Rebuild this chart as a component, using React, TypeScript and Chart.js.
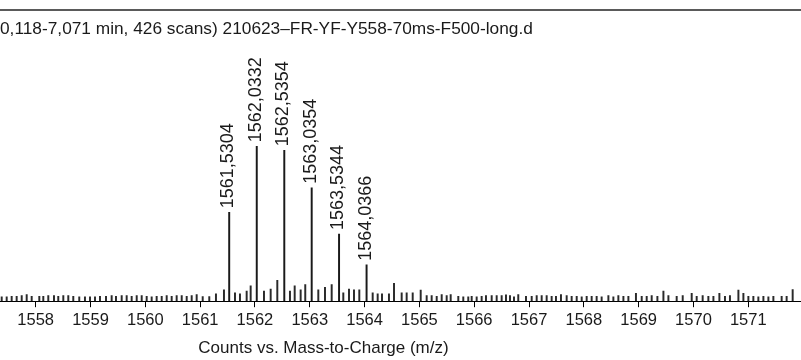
import React, { useEffect, useRef } from "react";
import { Chart, registerables } from "chart.js";

Chart.register(...registerables);

const TITLE = "0,118-7,071 min, 426 scans) 210623\u2013FR-YF-Y558-70ms-F500-long.d";
const X_AXIS_TITLE = "Counts vs. Mass-to-Charge (m/z)";
const X_MIN = 1557.349;
const X_MAX = 1571.962;
const X_TICKS = [1558, 1559, 1560, 1561, 1562, 1563, 1564, 1565, 1566, 1567, 1568, 1569, 1570, 1571];

// labelled isotope peaks (relative intensity, base peak = 100)
const PEAK_MZ = [1561.5304, 1562.0332, 1562.5354, 1563.0354, 1563.5344, 1564.0366];
const PEAK_INT = [57.4, 100, 97.4, 73.2, 43.4, 23.5];
const PEAK_LABELS = ["1561,5304", "1562,0332", "1562,5354", "1563,0354", "1563,5344", "1564,0366"];

// small unlabelled signals
const NOISE_MZ = [
  1557.380, 1557.471, 1557.562, 1557.653, 1557.745, 1557.836, 1557.927, 1558.066, 1558.139, 1558.230,
  1558.334, 1558.412, 1558.504, 1558.595, 1558.686, 1558.795, 1558.899, 1558.991, 1559.082, 1559.173,
  1559.283, 1559.386, 1559.465, 1559.569, 1559.660, 1559.751, 1559.843, 1559.934, 1560.025, 1560.116,
  1560.207, 1560.299, 1560.390, 1560.481, 1560.572, 1560.664, 1560.755, 1560.846, 1560.937,
  1561.047, 1561.167, 1561.289, 1561.435, 1561.636, 1561.727, 1561.849, 1561.922, 1562.165, 1562.287,
  1562.408, 1562.639, 1562.725, 1562.834, 1562.918, 1563.156, 1563.278, 1563.400, 1563.612, 1563.716,
  1563.807, 1563.904, 1564.148, 1564.239, 1564.318, 1564.445, 1564.537,
  1564.677, 1564.768, 1564.878, 1565.024, 1565.133, 1565.224, 1565.316, 1565.407, 1565.498, 1565.571,
  1565.710, 1565.801, 1565.892, 1565.954, 1566.045, 1566.136, 1566.215, 1566.319, 1566.410, 1566.501,
  1566.580, 1566.653, 1566.726, 1566.804, 1566.945, 1567.049, 1567.140, 1567.231, 1567.322, 1567.413,
  1567.492, 1567.583, 1567.687, 1567.778, 1567.870, 1567.961, 1568.052, 1568.143, 1568.234,
  1568.325, 1568.448, 1568.539, 1568.630, 1568.722, 1568.813, 1568.951, 1569.056, 1569.147, 1569.238,
  1569.342, 1569.452, 1569.543, 1569.694, 1569.804, 1569.968, 1570.059, 1570.168, 1570.272, 1570.364,
  1570.473, 1570.575, 1570.666, 1570.820, 1570.911, 1571.002, 1571.093, 1571.184, 1571.276, 1571.367,
  1571.458, 1571.609, 1571.700, 1571.810,
];
const NOISE_INT = [
  2.8, 2.8, 3.2, 3.2, 3.7, 4.3, 3.2, 3.2, 3.2, 3.7,
  3.7, 3.2, 3.7, 3.7, 3.2, 2.8, 2.8, 2.8, 2.8, 3.2,
  3.2, 3.7, 3.2, 3.7, 3.7, 3.2, 3.7, 3.7, 3.2, 2.8,
  3.2, 3.2, 3.7, 3.2, 3.7, 3.7, 3.2, 3.7, 4.3,
  3.0, 3.0, 4.7, 7.3, 5.4, 4.7, 6.5, 9.9, 6.5, 7.9,
  13.4, 6.5, 9.9, 7.3, 10.8, 7.3, 9.0, 10.8, 5.4, 7.9,
  7.3, 7.3, 5.4, 4.7, 4.7, 4.7, 11.6,
  5.4, 5.4, 5.4, 7.1, 3.7, 3.7, 3.2, 4.3, 3.7, 4.3,
  3.2, 2.8, 2.8, 3.2, 2.8, 3.2, 3.7, 3.7, 3.7, 3.7,
  4.1, 3.7, 2.8, 4.3, 3.2, 3.2, 3.7, 3.7, 3.7, 3.2,
  3.2, 4.3, 3.7, 3.2, 3.2, 2.8, 3.2, 3.2, 3.2,
  2.8, 3.7, 2.8, 3.7, 3.2, 3.2, 5.0, 3.2, 3.2, 3.7,
  3.2, 6.5, 3.7, 3.2, 3.7, 5.0, 3.2, 3.7, 3.2, 3.2,
  5.0, 3.2, 3.7, 7.1, 5.0, 3.2, 3.2, 2.8, 3.2, 2.8,
  3.2, 3.2, 3.2, 7.5,
];

const Y_MAX = 162.3;
const FONT = "'Liberation Sans', Arial, Helvetica, sans-serif";

const peakLabelPlugin = {
  id: "peakLabels",
  afterDatasetsDraw(chart: any) {
    const { ctx, scales } = chart;
    const xs = scales.x;
    const ys = scales.y;
    ctx.save();
    ctx.fillStyle = "#1a1a1a";
    ctx.font = `18px ${FONT}`;
    ctx.textAlign = "left";
    ctx.textBaseline = "middle";
    PEAK_MZ.forEach((mz, i) => {
      const x = xs.getPixelForValue(mz);
      const y = ys.getPixelForValue(PEAK_INT[i]);
      ctx.save();
      ctx.translate(x - 1, y - 4);
      ctx.rotate(-Math.PI / 2);
      ctx.fillText(PEAK_LABELS[i], 0, 0);
      ctx.restore();
    });
    ctx.restore();
  },
};

const axisTitlePlugin = {
  id: "axisTitleOffset",
  afterDraw(chart: any) {
    const { ctx, scales } = chart;
    const xs = scales.x;
    ctx.save();
    ctx.fillStyle = "#1a1a1a";
    ctx.font = `17px ${FONT}`;
    ctx.textAlign = "center";
    ctx.textBaseline = "middle";
    ctx.fillText(X_AXIS_TITLE, xs.getPixelForValue(1563.25), 348.5);
    ctx.restore();
  },
};

export default function App() {
  const ref = useRef<HTMLCanvasElement | null>(null);

  useEffect(() => {
    document.body.style.margin = "0";
    const canvas = ref.current;
    if (!canvas) return;
    const chart = new Chart(canvas, {
      type: "bar",
      data: {
        datasets: [
          {
            label: "peaks",
            data: PEAK_MZ.map((x, i) => ({ x, y: PEAK_INT[i] })),
            backgroundColor: "#1a1a1a",
            barThickness: 1.3,
            grouped: false,
          } as any,
          {
            label: "noise",
            data: NOISE_MZ.map((x, i) => ({ x, y: NOISE_INT[i] })),
            backgroundColor: "#2a2a2a",
            barThickness: 1.3,
            grouped: false,
          } as any,
        ],
      },
      options: {
        animation: false,
        responsive: false,
        maintainAspectRatio: false,
        layout: { padding: { left: 0, right: 0, top: 0, bottom: 27 } },
        plugins: {
          legend: { display: false },
          tooltip: { enabled: false },
          title: {
            display: true,
            text: TITLE,
            align: "start",
            color: "#1a1a1a",
            font: { family: FONT, size: 17.3, weight: "normal" },
            padding: { top: 19, bottom: 10 },
          },
        },
        scales: {
          x: {
            type: "linear",
            min: X_MIN,
            max: X_MAX,
            offset: false,
            afterBuildTicks: (scale: any) => {
              scale.ticks = X_TICKS.map((v) => ({ value: v }));
            },
            ticks: {
              autoSkip: false,
              maxRotation: 0,
              padding: 3,
              color: "#1a1a1a",
              font: { family: FONT, size: 16.5 },
              callback: (v: any) => String(v),
            },
            grid: {
              offset: false,
              drawOnChartArea: false,
              drawTicks: true,
              tickLength: 6,
              color: "#000",
              lineWidth: 1,
            },
            border: { display: true, color: "#000", width: 1 },
          },
          y: {
            display: false,
            min: 0,
            max: Y_MAX,
          },
        },
      } as any,
      plugins: [peakLabelPlugin, axisTitlePlugin],
    });
    return () => chart.destroy();
  }, []);

  return (
    <div style={{ position: "absolute", left: 0, top: 0, width: 801, height: 360, background: "#fff" }}>
      <div style={{ position: "absolute", left: 0, top: 9, width: 801, height: 2, background: "#5a5a5a" }} />
      <canvas ref={ref} width={801} height={360} style={{ display: "block", width: 801, height: 360 }} />
    </div>
  );
}
